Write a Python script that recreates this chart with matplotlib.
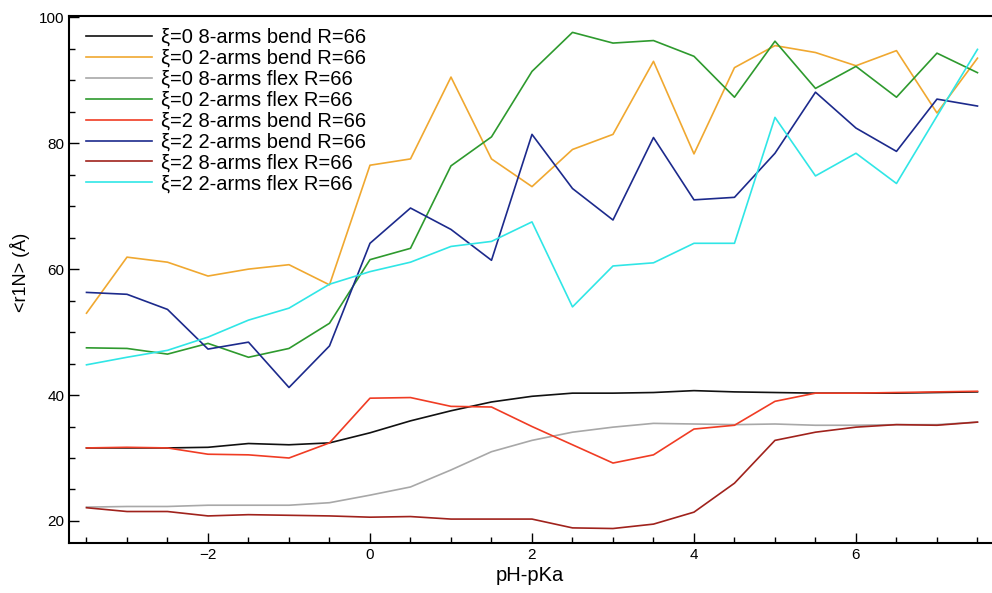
import matplotlib
matplotlib.use('Agg')
import matplotlib.pyplot as plt
from matplotlib.ticker import MultipleLocator

plt.rcParams['font.family'] = ['Liberation Sans', 'DejaVu Sans']

# pH-pKa grid
ph = [-3.5, -3.0, -2.5, -2.0, -1.5, -1.0, -0.5, 0.0, 0.5, 1.0, 1.5,
      2.0, 2.5, 3.0, 3.5, 4.0, 4.5, 5.0, 5.5, 6.0, 6.5, 7.0, 7.5]

# <r1N> values
xi0_8arms_bend = [31.6, 31.6, 31.6, 31.7, 32.3, 32.1, 32.4, 34.0, 35.9, 37.5, 38.9,
                  39.8, 40.3, 40.3, 40.4, 40.7, 40.5, 40.4, 40.3, 40.3, 40.3, 40.4, 40.5]
xi0_2arms_bend = [53.0, 61.9, 61.1, 58.9, 60.0, 60.7, 57.5, 76.5, 77.5, 90.5, 77.5,
                  73.1, 79.0, 81.4, 93.0, 78.3, 92.0, 95.5, 94.4, 92.3, 94.7, 84.8, 93.5]
xi0_8arms_flex = [22.2, 22.3, 22.3, 22.5, 22.5, 22.5, 22.9, 24.1, 25.4, 28.1, 31.0,
                  32.8, 34.1, 34.9, 35.5, 35.4, 35.3, 35.4, 35.2, 35.2, 35.3, 35.3, 35.7]
xi0_2arms_flex = [47.5, 47.4, 46.5, 48.2, 46.0, 47.4, 51.4, 61.5, 63.3, 76.4, 81.0,
                  91.4, 97.6, 95.9, 96.3, 93.8, 87.3, 96.2, 88.7, 92.2, 87.3, 94.3, 91.2]
xi2_8arms_bend = [31.6, 31.7, 31.6, 30.6, 30.5, 30.0, 32.4, 39.5, 39.6, 38.2, 38.1,
                  35.0, 32.1, 29.2, 30.5, 34.6, 35.2, 39.0, 40.3, 40.3, 40.4, 40.5, 40.6]
xi2_2arms_bend = [56.3, 56.0, 53.6, 47.3, 48.4, 41.2, 47.8, 64.1, 69.7, 66.3, 61.4,
                  81.4, 72.8, 67.8, 80.9, 71.0, 71.4, 78.4, 88.1, 82.4, 78.7, 87.0, 85.9]
xi2_8arms_flex = [22.1, 21.5, 21.5, 20.8, 21.0, 20.9, 20.8, 20.6, 20.7, 20.3, 20.3,
                  20.3, 18.9, 18.8, 19.5, 21.4, 26.0, 32.8, 34.1, 34.9, 35.3, 35.2, 35.7]
xi2_2arms_flex = [44.8, 46.0, 47.1, 49.2, 51.9, 53.8, 57.6, 59.6, 61.1, 63.6, 64.4,
                  67.5, 54.0, 60.5, 61.0, 64.1, 64.1, 84.1, 74.8, 78.4, 73.6, 84.3, 94.9]

series = [
    ('ξ=0 8-arms bend R=66', xi0_8arms_bend, '#111111'),
    ('ξ=0 2-arms bend R=66', xi0_2arms_bend, '#f0a830'),
    ('ξ=0 8-arms flex R=66', xi0_8arms_flex, '#a8a8a8'),
    ('ξ=0 2-arms flex R=66', xi0_2arms_flex, '#2e9a2e'),
    ('ξ=2 8-arms bend R=66', xi2_8arms_bend, '#f03c24'),
    ('ξ=2 2-arms bend R=66', xi2_2arms_bend, '#1c2a8c'),
    ('ξ=2 8-arms flex R=66', xi2_8arms_flex, '#a0221c'),
    ('ξ=2 2-arms flex R=66', xi2_2arms_flex, '#30e6e6'),
]


def make_plot():
    fig = plt.figure(figsize=(9.92, 5.93), dpi=100)
    ax = fig.add_axes([69 / 992, 50 / 593, 922 / 992, 527 / 593])

    for label, vals, color in series:
        ax.plot(ph, vals, color=color, lw=1.2, label=label)

    ax.set_xlim(-3.716, 7.667)
    ax.set_ylim(16.5, 100.2)
    ax.xaxis.set_major_locator(MultipleLocator(2))
    ax.xaxis.set_minor_locator(MultipleLocator(0.5))
    ax.yaxis.set_major_locator(MultipleLocator(20))
    ax.yaxis.set_minor_locator(MultipleLocator(5))
    ax.tick_params(which='both', direction='in', top=False, right=False,
                   labelsize=11, width=1)
    ax.tick_params(which='major', length=7)
    ax.tick_params(which='minor', length=4)
    for side in ['left', 'bottom', 'top']:
        ax.spines[side].set_linewidth(1.5)
    ax.spines['right'].set_visible(False)

    ax.set_xlabel('pH-pKa', fontsize=14.5, labelpad=3)
    ax.set_ylabel('<r1N> (Å)', fontsize=13)
    ax.yaxis.set_label_coords(-0.042, 0.514)

    ax.legend(loc='upper left', bbox_to_anchor=(0.003, 1.004), frameon=False,
              fontsize=14.5, handlelength=3.3, handletextpad=0.45,
              labelspacing=0.095, borderaxespad=0.3)

    fig.savefig('out.png', dpi=100)


if __name__ == '__main__':
    make_plot()
